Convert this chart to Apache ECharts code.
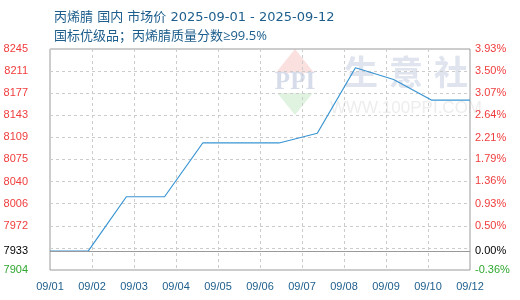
<!DOCTYPE html>
<html><head><meta charset="utf-8">
<script src="https://cdn.jsdelivr.net/npm/echarts@6/dist/echarts.min.js"></script>
<style>html,body{margin:0;padding:0;background:#fff}#c{width:520px;height:300px}</style>
</head><body><div id="c"></div>
<script>
var titleLine1 = '丙烯腈 国内 市场价 2025-09-01 - 2025-09-12';
var titleLine2 = '国标优级品；丙烯腈质量分数≥99.5%';
var xLabels = ['09/01','09/02','09/03','09/04','09/05','09/06','09/07','09/08','09/09','09/10','09/12'];
var dates = ['09/01','09/02','09/03','09/04','09/05','09/06','09/07','09/08','09/09','09/10','09/11','09/12'];
var prices = [7933, 7933, 8017, 8017, 8100, 8100, 8100, 8115, 8216, 8198, 8166, 8166];
var basePrice = 7933;
var leftTicks = [7904, 7933, 7972, 8006, 8040, 8075, 8109, 8143, 8177, 8211, 8245];
var rightTicks = [-0.36, 0.00, 0.50, 0.93, 1.36, 1.79, 2.21, 2.64, 3.07, 3.50, 3.93];
var leftMin = 7904, leftMax = 8245;
var rightMin = -0.36, rightMax = 3.93;

var chart = echarts.init(document.getElementById('c'), null, {renderer: 'canvas'});
var labelFont = 'Liberation Sans';
var titleFont1 = '"DejaVu Sans", "Noto Sans CJK SC", sans-serif';
var titleFont2 = '"Open Sans", "Noto Sans CJK SC", sans-serif';
function tickColor(v, base) {
  if (Math.abs(v - base) < 1e-9) return '#000000';
  return v > base ? '#f03c3c' : '#2fa82f';
}
chart.setOption({
  animation: false,
  title: [
    {text: titleLine1, left: 49, top: 6, textStyle: {fontFamily: titleFont1, fontSize: 13, fontWeight: 'normal', color: '#1d5e8c'}},
    {text: titleLine2, left: 49, top: 25, textStyle: {fontFamily: titleFont2, fontSize: 13, fontWeight: 'normal', color: '#1d5e8c'}}
  ],
  graphic: [
    {type: 'polygon', z: -1, silent: true, shape: {points: [[295,49],[320,80],[270,80]]}, style: {fill: '#fbe0e0'}},
    {type: 'polygon', z: -1, silent: true, shape: {points: [[270,84],[320,84],[295,115]]}, style: {fill: '#e0f2e0'}},
    {type: 'rect', z: -1, silent: true, shape: {x: 266, y: 73, width: 58, height: 20}, style: {fill: '#ffffff'}},
    {type: 'text', z: -1, silent: true, x: 295, y: 83, style: {text: 'PPI', fill: '#d6dcea', font: 'bold 25px "Liberation Serif"', align: 'center', verticalAlign: 'middle'}},
    {type: 'text', z: -1, silent: true, x: 361, y: 72, style: {text: '生', fill: '#e0e4ee', font: 'bold 34px "Noto Sans CJK SC"', align: 'center', verticalAlign: 'middle'}},
    {type: 'text', z: -1, silent: true, x: 406, y: 72, style: {text: '意', fill: '#e0e4ee', font: 'bold 34px "Noto Sans CJK SC"', align: 'center', verticalAlign: 'middle'}},
    {type: 'text', z: -1, silent: true, x: 451, y: 72, style: {text: '社', fill: '#e0e4ee', font: 'bold 34px "Noto Sans CJK SC"', align: 'center', verticalAlign: 'middle'}},
    {type: 'text', z: -1, silent: true, x: 406, y: 108, style: {text: 'WWW.100PPI.COM', fill: '#ededed', font: '17px "Liberation Sans"', align: 'center', verticalAlign: 'middle'}}
  ],
  grid: {left: 50, right: 50, top: 49, bottom: 30, show: true, borderColor: '#9a9a9a', borderWidth: 1, backgroundColor: 'transparent'},
  xAxis: [
    {type: 'category', data: xLabels, boundaryGap: false,
     axisLine: {show: false}, axisTick: {show: false},
     axisLabel: {interval: 0, color: '#1d5e8c', fontFamily: labelFont, fontSize: 11, margin: 11},
     splitLine: {show: true, interval: 0, lineStyle: {color: '#cccccc', type: [3, 3], width: 1}}},
    {type: 'category', data: dates, boundaryGap: false, show: false}
  ],
  yAxis: [
    {type: 'value', min: leftMin, max: leftMax, interval: (leftMax - leftMin) / 10, position: 'left',
     axisLine: {show: false}, axisTick: {show: false},
     axisLabel: {customValues: leftTicks, margin: 22, fontFamily: labelFont, fontSize: 11,
       formatter: function (v) { return String(Math.round(v)); },
       color: function (v) { return tickColor(Math.round(Number(v)), basePrice); }},
     splitLine: {show: true, lineStyle: {color: '#cccccc', type: [3, 3], width: 1}}},
    {type: 'value', min: rightMin, max: rightMax, position: 'right',
     axisLine: {show: false}, axisTick: {show: false}, splitLine: {show: false},
     axisLabel: {customValues: rightTicks, margin: 5, fontFamily: labelFont, fontSize: 11,
       formatter: function (v) { return Number(v).toFixed(2) + '%'; },
       color: function (v) { return tickColor(Number(v), 0); }}}
  ],
  series: [{
    type: 'line', xAxisIndex: 1, yAxisIndex: 0, data: prices,
    symbol: 'none', lineStyle: {color: '#3894d2', width: 1.2}, itemStyle: {color: '#3894d2'},
    markLine: {silent: true, symbol: 'none', label: {show: false},
      lineStyle: {color: '#9a9a9a', type: 'solid', width: 1},
      data: [{yAxis: basePrice}]}
  }]
});
</script></body></html>
